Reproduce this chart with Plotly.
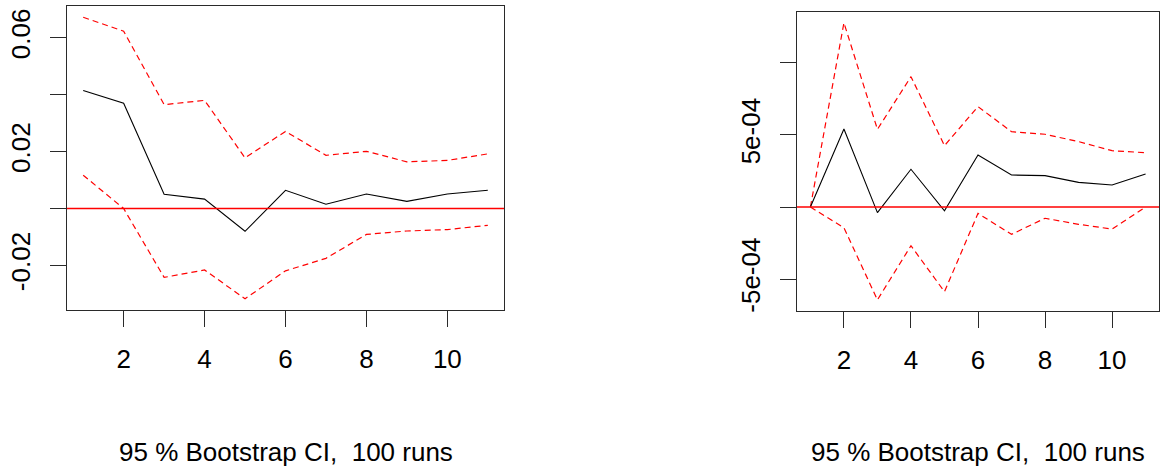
import plotly.graph_objects as go

# ---- data ----
horizon = [1, 2, 3, 4, 5, 6, 7, 8, 9, 10, 11]

left_irf = [0.0415, 0.0370, 0.0050, 0.0033, -0.0080, 0.0064, 0.0015, 0.0051, 0.0025, 0.0051, 0.0064]
left_upper = [0.0672, 0.0623, 0.0365, 0.0380, 0.0178, 0.0271, 0.0187, 0.0201, 0.0164, 0.0169, 0.0192]
left_lower = [0.0117, 0.0000, -0.0242, -0.0216, -0.0317, -0.0219, -0.0175, -0.0091, -0.0079, -0.0074, -0.0059]

right_irf = [0.0, 5.42e-4, -3.9e-5, 2.62e-4, -2.6e-5, 3.61e-4, 2.22e-4, 2.18e-4, 1.71e-4, 1.53e-4, 2.29e-4]
right_upper = [0.0, 1.279e-3, 5.39e-4, 9.05e-4, 4.26e-4, 6.97e-4, 5.23e-4, 5.05e-4, 4.54e-4, 3.91e-4, 3.77e-4]
right_lower = [0.0, -1.44e-4, -6.45e-4, -2.69e-4, -5.88e-4, -4.4e-5, -1.9e-4, -7.8e-5, -1.2e-4, -1.53e-4, 0.0]

x_ticks = [2, 4, 6, 8, 10]
left_yticks = [-0.02, 0.0, 0.02, 0.04, 0.06]
left_ytext = ["-0.02", "", "0.02", "", "0.06"]
right_yticks = [-5e-4, 0.0, 5e-4, 1e-3]
right_ytext = ["-5e-04", "", "5e-04", ""]

caption = "95 % Bootstrap CI,\u00a0 100 runs"


def r_range(vals):
    lo, hi = min(vals), max(vals)
    d = (hi - lo) * 0.04
    return [lo - d, hi + d]


FONT = "Liberation Sans, Arial, sans-serif"
W, H = 1160, 467

fig = go.Figure()

panels = [
    ("x", "y", left_irf, left_upper, left_lower),
    ("x2", "y2", right_irf, right_upper, right_lower),
]
for xa, ya, irf, up, lo in panels:
    fig.add_trace(go.Scatter(x=horizon, y=up, mode="lines", xaxis=xa, yaxis=ya,
                             line=dict(color="red", width=1.2, dash="6px,4px"), showlegend=False))
    fig.add_trace(go.Scatter(x=horizon, y=lo, mode="lines", xaxis=xa, yaxis=ya,
                             line=dict(color="red", width=1.2, dash="6px,4px"), showlegend=False))
    fig.add_trace(go.Scatter(x=horizon, y=irf, mode="lines", xaxis=xa, yaxis=ya,
                             line=dict(color="black", width=1.1), showlegend=False))
    fig.add_shape(type="line", xref=f"{xa} domain", yref=ya, x0=0, x1=1, y0=0, y1=0,
                  line=dict(color="red", width=1.5), layer="above")

axis_common = dict(showline=True, mirror=True, linecolor="#2a2a2a", linewidth=1.2,
                   ticks="outside", ticklen=16, tickcolor="#2a2a2a", tickwidth=1.2,
                   showgrid=False, zeroline=False,
                   tickfont=dict(family=FONT, size=26, color="black"))

xr = [0.6, 11.4]
fig.update_layout(
    width=W, height=H,
    margin=dict(l=0, r=0, t=0, b=0, autoexpand=False),
    paper_bgcolor="white", plot_bgcolor="white",
    xaxis=dict(domain=[67 / W, 504 / W], range=xr, tickvals=x_ticks,
               ticklabelstandoff=10, anchor="y", **axis_common),
    yaxis=dict(domain=[1 - 310 / H, 1 - 6 / H], range=r_range(left_upper + left_lower + left_irf),
               tickvals=left_yticks, ticktext=left_ytext, tickangle=-90,
               ticklabelstandoff=10, anchor="x", **axis_common),
    xaxis2=dict(domain=[797 / W, 1159 / W], range=xr, tickvals=x_ticks,
                ticklabelstandoff=10, anchor="y2", **axis_common),
    yaxis2=dict(domain=[1 - 311 / H, 1 - 11.7 / H], range=r_range(right_upper + right_lower + right_irf),
                tickvals=right_yticks, ticktext=right_ytext, tickangle=-90,
                ticklabelstandoff=10, anchor="x2", **axis_common),
)

for xa, dom in (("x", [67 / W, 504 / W]), ("x2", [797 / W, 1159 / W])):
    fig.add_annotation(text=caption, xref="paper", yref="paper",
                       x=(dom[0] + dom[1]) / 2, y=1 - 452 / H,
                       xanchor="center", yanchor="middle", showarrow=False,
                       font=dict(family=FONT, size=26, color="black"))

fig.write_html("out.html")
